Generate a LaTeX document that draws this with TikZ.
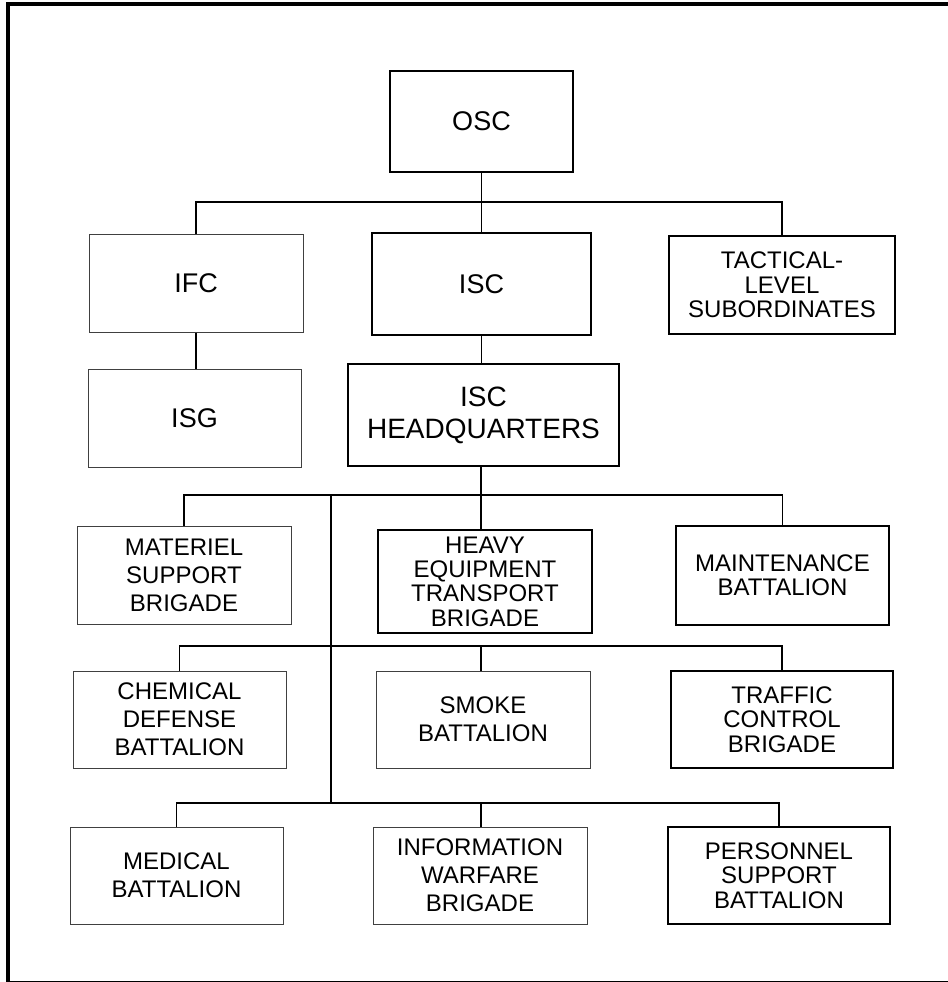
\documentclass[tikz,border=0pt]{standalone}
\usepackage{fontspec}
\setmainfont{Liberation Sans}
\usepackage{tikz}

\begin{document}
\begin{tikzpicture}[x=0.5pt,y=-0.5pt,
  unit/.style 2 args={draw, align=center, inner sep=0pt,
    font=\fontsize{12}{14}\selectfont,
    minimum width=#1*0.5pt, minimum height=#2*0.5pt},
  thin/.style={line width=0.5pt, draw=black!75},
  bold/.style={line width=1pt, font=\fontsize{12}{12.2}\selectfont},
  big/.style={font=\fontsize{13.5}{16}\selectfont},
  link/.style={line width=0.75pt}]
\useasboundingbox (0,0) rectangle (948,982);
\draw[line width=2pt] (8,982) -- (8,4) -- (948,4);
\draw[line width=0.5pt] (8,981) -- (948,981);
\node[unit={183}{101}, bold, big] (osc) at (481.5,121.5) {OSC};
\node[unit={214}{98}, thin, big] (ifc) at (196,283) {IFC};
\node[unit={219}{102}, bold, big] (isc) at (481.5,284) {ISC};
\node[unit={226}{98}, bold] (tac) at (782,285) {TACTICAL-\\LEVEL\\SUBORDINATES};
\node[unit={213}{98}, thin, big] (isg) at (194.5,418) {ISG};
\node[unit={271}{102}, bold, line width=0.75pt, font=\fontsize{14}{16}\selectfont] (hq) at (483.5,415) {ISC\\HEADQUARTERS};
\node[unit={214}{98}, thin] (mat) at (184,575) {MATERIEL\\SUPPORT\\BRIGADE};
\node[unit={214}{103}, bold] (heavy) at (485,581.5) {HEAVY\\EQUIPMENT\\TRANSPORT\\BRIGADE};
\node[unit={213}{99}, bold] (maint) at (782.5,575.5) {MAINTENANCE\\BATTALION};
\node[unit={213}{97}, thin] (chem) at (179.5,719.5) {CHEMICAL\\DEFENSE\\BATTALION};
\node[unit={214}{97}, thin] (smoke) at (483,719.5) {SMOKE\\BATTALION};
\node[unit={222}{97}, bold] (traffic) at (782,719.5) {TRAFFIC\\CONTROL\\BRIGADE};
\node[unit={213}{97}, thin] (med) at (176.5,875.5) {MEDICAL\\BATTALION};
\node[unit={214}{97}, thin] (info) at (480,875.5) {INFORMATION\\WARFARE\\BRIGADE};
\node[unit={222}{97}, bold] (pers) at (779,875.5) {PERSONNEL\\SUPPORT\\BATTALION};
\coordinate (top) at (481,202);
\coordinate (mid) at (481,495);
\coordinate (trunk) at (331,495);
\coordinate (row2) at (331,646);
\coordinate (row3) at (331,803);
\draw[link] (osc.south) -- (isc.north);
\draw[link] (ifc.north) |- (top) -| (tac.north);
\draw[link] (ifc.south) -- (ifc.south |- isg.north);
\draw[link] (isc.south) -- (isc.south |- hq.north);
\draw[link] (mid |- hq.south) -- (mid |- heavy.north);
\draw[link] (mat.north) |- (mid) -| (maint.north);
\draw[link] (trunk) -- (row3);
\draw[link] (chem.north) |- (row2) -| (traffic.north);
\draw[link] (mid |- row2) -- (mid |- smoke.north);
\draw[link] (med.north) |- (row3) -| (pers.north);
\draw[link] (mid |- row3) -- (mid |- info.north);
\end{tikzpicture}
\end{document}
